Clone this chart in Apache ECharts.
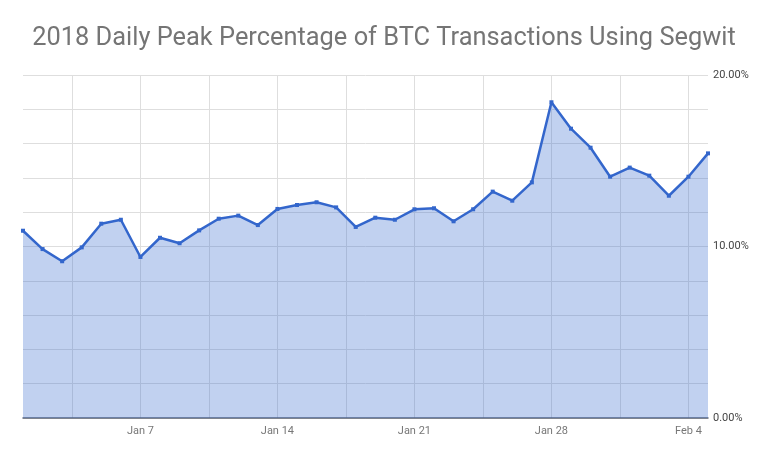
<!DOCTYPE html>
<html>
<head>
<meta charset="utf-8">
<script src="https://cdn.jsdelivr.net/npm/echarts@6/dist/echarts.min.js"></script>
<style>
html,body{margin:0;padding:0;background:#fff;}
#chart{width:768px;height:459px;}
</style>
</head>
<body>
<div id="chart"></div>
<script>
// Dates (Jan 1 2018 – Feb 5 2018)
const dates = [
  'Jan 1','Jan 2','Jan 3','Jan 4','Jan 5','Jan 6','Jan 7','Jan 8','Jan 9','Jan 10',
  'Jan 11','Jan 12','Jan 13','Jan 14','Jan 15','Jan 16','Jan 17','Jan 18','Jan 19','Jan 20',
  'Jan 21','Jan 22','Jan 23','Jan 24','Jan 25','Jan 26','Jan 27','Jan 28','Jan 29','Jan 30',
  'Jan 31','Feb 1','Feb 2','Feb 3','Feb 4','Feb 5'
];
// Daily peak segwit share, percent
const segwitPct = [
  10.92, 9.85, 9.14, 9.95, 11.33, 11.56, 9.39, 10.51, 10.19, 10.94,
  11.62, 11.80, 11.25, 12.19, 12.42, 12.58, 12.28, 11.14, 11.68, 11.56,
  12.17, 12.23, 11.47, 12.17, 13.20, 12.67, 13.74, 18.41, 16.87, 15.76,
  14.07, 14.60, 14.13, 12.96, 14.07, 15.43
];
const labeledDates = ['Jan 7','Jan 14','Jan 21','Jan 28','Feb 4'];
const yTickLabels = [0, 10, 20];

// half-day helper axis for vertical gridlines (every 3.5 days)
const halfDays = [];
for (let i = 0; i < dates.length * 2 - 1; i++) halfDays.push(String(i));

const chart = echarts.init(document.getElementById('chart'));
chart.setOption({
  backgroundColor: '#ffffff',
  animation: false,
  title: {
    text: '2018 Daily Peak Percentage of BTC Transactions Using Segwit',
    left: 'center',
    top: 21,
    textStyle: { fontFamily: 'Roboto', fontSize: 25.4, fontWeight: 'normal', color: '#757575' }
  },
  grid: { left: 23, right: 60, top: 75, bottom: 41 },
  xAxis: [
    {
      type: 'category',
      data: dates,
      boundaryGap: false,
      axisLine: { show: true, lineStyle: { color: '#5f6573', width: 1.5 } },
      axisTick: { show: false },
      splitLine: { show: false },
      axisLabel: {
        interval: 0,
        formatter: v => labeledDates.includes(v) ? v : '',
        fontFamily: 'Roboto', fontSize: 11, color: '#777', margin: 8
      }
    },
    {
      type: 'category',
      data: halfDays,
      boundaryGap: false,
      position: 'top',
      axisLine: { show: false },
      axisTick: { show: false },
      axisLabel: { show: false },
      splitLine: {
        show: true,
        interval: (i) => i % 7 === 5,
        lineStyle: { color: '#dedede', width: 1 }
      }
    }
  ],
  yAxis: {
    type: 'value',
    position: 'right',
    min: 0, max: 20, interval: 2,
    axisLine: { show: false },
    axisTick: { show: false },
    splitLine: { show: true, lineStyle: { color: '#dedede', width: 1 } },
    axisLabel: {
      formatter: v => yTickLabels.includes(v) ? v.toFixed(2) + '%' : '',
      fontFamily: 'Roboto', fontSize: 11, color: '#444', margin: 5,
      padding: [4, 0, 0, 0]
    }
  },
  series: [{
    type: 'line',
    xAxisIndex: 0,
    data: segwitPct,
    symbol: 'rect',
    symbolSize: 4,
    showAllSymbol: true,
    lineStyle: { color: '#3366cc', width: 2.5 },
    itemStyle: { color: '#3366cc' },
    areaStyle: { color: 'rgba(51,102,204,0.3)', opacity: 1 }
  }]
});
</script>
</body>
</html>
